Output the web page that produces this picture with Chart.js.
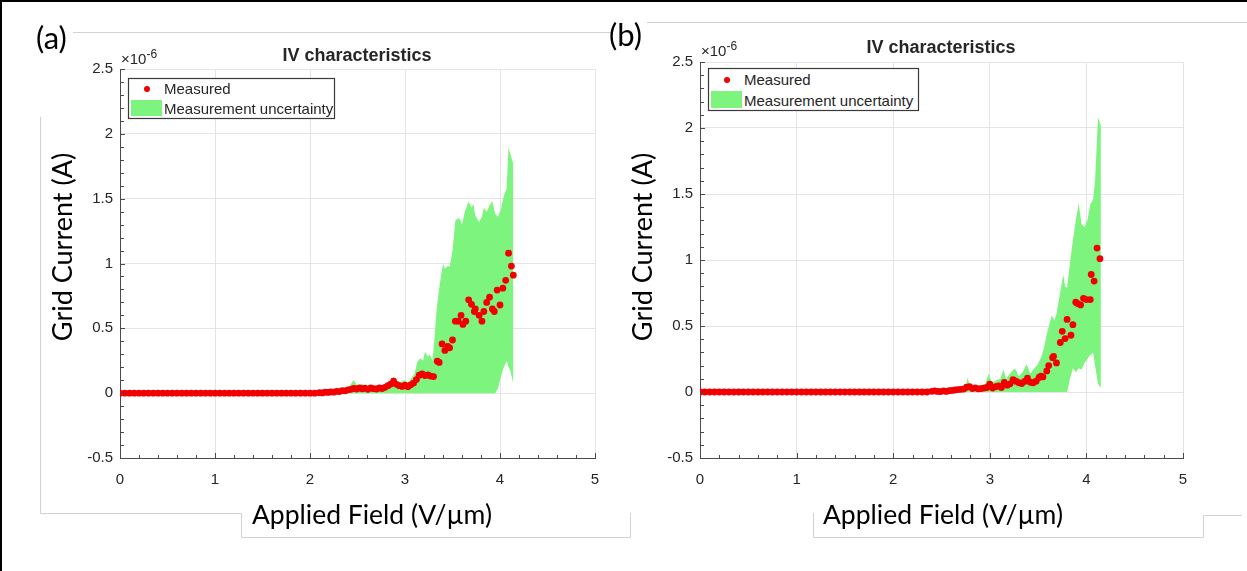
<!DOCTYPE html>
<html lang="en">
<head>
<meta charset="UTF-8">
<title>IV characteristics</title>
<script src="https://cdn.jsdelivr.net/npm/chart.js"></script>
<style>
  body { margin: 0; background: #fff; }
  .figure { position: relative; width: 1247px; height: 571px; overflow: hidden; background: #fff; }
  .figure canvas { position: absolute; top: 0; }
  #panelA { left: 0; }
  #panelB { left: 620px; }
  #notes { position: absolute; left: 0; top: 0; pointer-events: none; }
  .big { font-family: Lato, "Open Sans", sans-serif; fill: #000; }
  .small { font-family: "Liberation Sans", Arial, sans-serif; fill: #262626; }
</style>
</head>
<body>
<div class="figure">
  <canvas id="panelA" width="620" height="571"></canvas>
  <canvas id="panelB" width="627" height="571"></canvas>

  <svg id="notes" width="1247" height="571">
    <!-- outer frame, top and left -->
    <rect x="0" y="0" width="1247" height="2" fill="#000"/>
    <rect x="0" y="0" width="2" height="571" fill="#000"/>

    <!-- edges of the pasted panels and label boxes -->
    <g stroke="#d2d2d2" stroke-width="1" fill="none">
      <path d="M73 32.5H612"/>
      <path d="M647 22.5H1247"/>
      <path d="M40.5 117V513.5H241"/>
      <path d="M241.5 513V537.5H630.5V513"/>
      <path d="M813.5 513V537.5H1203.5V515.5H1242"/>
    </g>

    <!-- panel (a) -->
    <text class="big" x="36" y="49" font-size="31">(a)</text>
    <text class="small" x="357" y="61" font-size="18" font-weight="bold" text-anchor="middle">IV characteristics</text>
    <text class="small" x="121" y="64" font-size="15">×10<tspan dy="-6" font-size="12">-6</tspan></text>
    <text class="big" x="372" y="524" font-size="26.5" text-anchor="middle">Applied Field (V/µm)</text>
    <text class="big" font-size="27" text-anchor="middle" transform="translate(72 247) rotate(-90)">Grid Current (A)</text>
    <g>
      <rect x="128.5" y="78.5" width="206" height="40" fill="#fff" stroke="#3a3a3a" stroke-width="1.2"/>
      <circle cx="147" cy="89" r="3" fill="#f20000"/>
      <rect x="131" y="100" width="31" height="16" fill="#7df47d"/>
      <text class="small" x="164" y="94" font-size="15">Measured</text>
      <text class="small" x="164" y="114" font-size="15">Measurement uncertainty</text>
    </g>

    <!-- panel (b) -->
    <text class="big" x="609" y="46" font-size="31">(b)</text>
    <text class="small" x="941" y="53" font-size="18" font-weight="bold" text-anchor="middle">IV characteristics</text>
    <text class="small" x="701" y="56" font-size="15">×10<tspan dy="-6" font-size="12">-6</tspan></text>
    <text class="big" x="943" y="524" font-size="26.5" text-anchor="middle">Applied Field (V/µm)</text>
    <text class="big" font-size="27" text-anchor="middle" transform="translate(652 247) rotate(-90)">Grid Current (A)</text>
    <g>
      <rect x="708.5" y="68.5" width="210" height="42" fill="#fff" stroke="#3a3a3a" stroke-width="1.2"/>
      <circle cx="727" cy="80" r="3" fill="#f20000"/>
      <rect x="711" y="91" width="31" height="17" fill="#7df47d"/>
      <text class="small" x="744" y="85" font-size="15">Measured</text>
      <text class="small" x="744" y="106" font-size="15">Measurement uncertainty</text>
    </g>
  </svg>
</div>

<script>
// applied field in V/um, grid current in units of 1e-6 A

// panel (a)
const fieldA = [
  0.00, 0.05, 0.10, 0.15, 0.20, 0.25, 0.30, 0.35, 0.40, 0.45, 0.50, 0.55, 0.60, 0.65,
  0.70, 0.75, 0.80, 0.85, 0.90, 0.95, 1.00, 1.05, 1.10, 1.15, 1.20, 1.25, 1.30, 1.35,
  1.40, 1.45, 1.50, 1.55, 1.60, 1.65, 1.70, 1.75, 1.80, 1.85, 1.90, 1.95, 2.00, 2.05,
  2.10, 2.13, 2.16, 2.19, 2.22, 2.25, 2.28, 2.31, 2.34, 2.37, 2.40, 2.43, 2.46, 2.49,
  2.52, 2.55, 2.58, 2.61, 2.64, 2.67, 2.70, 2.73, 2.76, 2.79, 2.82, 2.85, 2.88, 2.91,
  2.94, 2.97, 3.00, 3.03, 3.06, 3.09, 3.12, 3.15, 3.18, 3.21, 3.24, 3.27, 3.30,
  3.34, 3.36, 3.39, 3.42, 3.45, 3.47, 3.50, 3.53, 3.56, 3.59, 3.61, 3.64, 3.67, 3.70,
  3.73, 3.74, 3.78, 3.81, 3.83, 3.86, 3.89, 3.92, 3.94, 3.97, 4.00, 4.03, 4.06, 4.09,
  4.12, 4.14
];
const currentA = [
  0, 0, 0, 0, 0, 0, 0, 0, 0, 0, 0, 0, 0, 0,
  0, 0, 0, 0, 0, 0, 0, 0, 0, 0, 0, 0, 0, 0,
  0, 0, 0, 0, 0, 0, 0, 0, 0, 0, 0, 0, 0, 0,
  0.004, 0.002, 0.008, 0.006, 0.010, 0.008, 0.014, 0.012, 0.020, 0.018, 0.026, 0.030, 0.036, 0.032,
  0.040, 0.034, 0.038, 0.030, 0.040, 0.035, 0.032, 0.040, 0.036, 0.045, 0.058, 0.070, 0.092, 0.068,
  0.058, 0.052, 0.062, 0.050, 0.064, 0.078, 0.105, 0.138, 0.148, 0.136, 0.140, 0.132, 0.128,
  0.247, 0.237, 0.380, 0.330, 0.360, 0.350, 0.410, 0.555, 0.555, 0.600, 0.530, 0.555, 0.720, 0.685,
  0.630, 0.650, 0.600, 0.555, 0.630, 0.700, 0.740, 0.650, 0.630, 0.795, 0.680, 0.810, 0.870, 1.080,
  0.980, 0.910
];
const bandFieldA = [
  2.30, 2.40, 2.46, 2.50, 2.55, 2.60, 2.65, 2.70, 2.75, 2.80, 2.85, 2.88, 2.92, 2.96,
  3.00, 3.03, 3.06, 3.10, 3.13, 3.16, 3.19, 3.21, 3.24, 3.26, 3.29, 3.31, 3.33, 3.35,
  3.37, 3.40, 3.42, 3.45, 3.47, 3.50, 3.53, 3.56, 3.58, 3.60, 3.63, 3.67, 3.70, 3.72,
  3.74, 3.78, 3.81, 3.83, 3.86, 3.89, 3.92, 3.95, 3.98, 4.01, 4.04, 4.07, 4.09, 4.11,
  4.14
];
const bandLowA = [
  0, 0, 0, 0, 0, 0, 0, 0, 0, 0, 0, 0, 0, 0,
  0, 0, 0, 0, 0, 0, 0, 0, 0, 0, 0, 0, 0, 0,
  0, 0, 0, 0, 0, 0, 0, 0, 0, 0, 0, 0, 0, 0,
  0, 0, 0, 0, 0, 0, 0, 0, 0.04, 0.13, 0.20, 0.25, 0.20, 0.17,
  0.07
];
const bandHighA = [
  0.01, 0.04, 0.10, 0.06, 0.07, 0.05, 0.055, 0.05, 0.06, 0.07, 0.09, 0.13, 0.08, 0.09,
  0.10, 0.08, 0.11, 0.15, 0.24, 0.27, 0.25, 0.32, 0.28, 0.30, 0.25, 0.42, 0.62, 0.75,
  0.86, 1.00, 0.96, 0.98, 0.975, 1.10, 1.33, 1.35, 1.34, 1.30, 1.40, 1.48, 1.43, 1.46,
  1.37, 1.32, 1.36, 1.43, 1.40, 1.45, 1.48, 1.38, 1.36, 1.42, 1.52, 1.58, 1.90, 1.84,
  1.77
];

// panel (b)
const fieldB = [
  0.00, 0.05, 0.10, 0.15, 0.20, 0.25, 0.30, 0.35, 0.40, 0.45, 0.50, 0.55, 0.60, 0.65,
  0.70, 0.75, 0.80, 0.85, 0.90, 0.95, 1.00, 1.05, 1.10, 1.15, 1.20, 1.25, 1.30, 1.35,
  1.40, 1.45, 1.50, 1.55, 1.60, 1.65, 1.70, 1.75, 1.80, 1.85, 1.90, 1.95, 2.00, 2.05,
  2.10, 2.15, 2.20, 2.25, 2.30, 2.35,
  2.40, 2.43, 2.46, 2.49, 2.52, 2.55, 2.58, 2.61, 2.64, 2.67, 2.70, 2.73, 2.76, 2.79,
  2.82, 2.85, 2.88, 2.91, 2.94, 2.97, 3.00, 3.03, 3.06, 3.09, 3.12, 3.15, 3.18, 3.21,
  3.24, 3.27, 3.30, 3.33, 3.36, 3.39, 3.42, 3.45, 3.48, 3.51,
  3.53, 3.55, 3.59, 3.61, 3.65, 3.66, 3.69, 3.73, 3.75, 3.78, 3.80, 3.84, 3.86, 3.89,
  3.91, 3.94, 3.97, 4.00, 4.04, 4.05, 4.08, 4.11, 4.14
];
const currentB = [
  0, 0, 0, 0, 0, 0, 0, 0, 0, 0, 0, 0, 0, 0,
  0, 0, 0, 0, 0, 0, 0, 0, 0, 0, 0, 0, 0, 0,
  0, 0, 0, 0, 0, 0, 0, 0, 0, 0, 0, 0, 0, 0,
  0, 0, 0, 0, 0, 0,
  0.005, 0.008, 0.004, 0.003, 0.008, 0.004, 0.010, 0.012, 0.015, 0.018, 0.020, 0.022, 0.036, 0.040,
  0.026, 0.032, 0.024, 0.026, 0.030, 0.034, 0.060, 0.030, 0.040, 0.046, 0.034, 0.072, 0.052, 0.062,
  0.094, 0.082, 0.070, 0.064, 0.080, 0.104, 0.074, 0.070, 0.082, 0.110,
  0.120, 0.114, 0.160, 0.200, 0.260, 0.270, 0.220, 0.375, 0.460, 0.405, 0.550, 0.430, 0.510, 0.680,
  0.670, 0.660, 0.710, 0.700, 0.700, 0.890, 0.840, 1.090, 1.010
];
const bandFieldB = [
  2.74, 2.77, 2.80, 2.85, 2.90, 2.95, 2.99, 3.02, 3.07, 3.11, 3.14, 3.17, 3.22, 3.26,
  3.30, 3.34, 3.38, 3.42, 3.46, 3.49, 3.53, 3.56, 3.59, 3.62, 3.64, 3.67, 3.69, 3.72,
  3.76, 3.78, 3.80, 3.83, 3.86, 3.89, 3.92, 3.95, 3.98, 4.01, 4.04, 4.07, 4.09, 4.12,
  4.15
];
const bandLowB = [
  0, 0, 0, 0, 0, 0, 0, 0, 0, 0, 0, 0, 0, 0,
  0, 0, 0, 0, 0, 0, 0, 0, 0, 0, 0, 0, 0, 0,
  0, 0, 0, 0.10, 0.18, 0.15, 0.18, 0.17, 0.22, 0.25, 0.28, 0.30, 0.20, 0.06,
  0.03
];
const bandHighB = [
  0.00, 0.11, 0.03, 0.04, 0.05, 0.06, 0.14, 0.07, 0.09, 0.10, 0.17, 0.10, 0.15, 0.18,
  0.12, 0.15, 0.21, 0.14, 0.18, 0.20, 0.26, 0.33, 0.44, 0.52, 0.58, 0.54, 0.59, 0.72,
  0.89, 0.80, 0.79, 0.98, 1.15, 1.30, 1.43, 1.27, 1.25, 1.30, 1.42, 1.46, 1.60, 2.08,
  2.02
];

const axisGrey = '#4a4a4a';
const gridGrey = '#e4e4e4';
const dotRed = '#f20000';
const bandGreen = '#7df47d';

// short inward ticks on the left and bottom axes (minor every 0.1 / 0.2)
const inwardTicks = {
  id: 'inwardTicks',
  afterDatasetsDraw(chart) {
    const { ctx, chartArea: area, scales: { x, y } } = chart;
    ctx.save();
    ctx.strokeStyle = axisGrey;
    ctx.lineWidth = 1;
    ctx.beginPath();
    for (let i = 0; i <= 25; i++) {
      const px = Math.round(x.getPixelForValue(i * 0.2)) + 0.5;
      const len = i % 5 === 0 ? 5 : 3;
      ctx.moveTo(px, area.bottom);
      ctx.lineTo(px, area.bottom - len);
    }
    for (let i = 0; i <= 30; i++) {
      const py = Math.round(y.getPixelForValue(-0.5 + i * 0.1)) + 0.5;
      const len = i % 5 === 0 ? 5 : 4;
      ctx.moveTo(area.left, py);
      ctx.lineTo(area.left + len, py);
    }
    ctx.stroke();
    ctx.restore();
  }
};

function points(xs, ys) {
  return xs.map((v, i) => ({ x: v, y: ys[i] }));
}

function buildPanel(canvasId, padding, field, current, bandField, bandLow, bandHigh) {
  const tickFont = { family: '"Liberation Sans", Arial, sans-serif', size: 15 };
  return new Chart(document.getElementById(canvasId), {
    type: 'line',
    data: {
      datasets: [
        {
          label: 'Measured',
          data: points(field, current),
          showLine: false,
          pointRadius: 3.4,
          pointBorderWidth: 0,
          pointBackgroundColor: dotRed
        },
        {
          label: 'lower bound',
          data: points(bandField, bandLow),
          pointRadius: 0,
          borderWidth: 0,
          borderColor: 'transparent',
          tension: 0,
          fill: false
        },
        {
          label: 'Measurement uncertainty',
          data: points(bandField, bandHigh),
          pointRadius: 0,
          borderWidth: 0,
          borderColor: 'transparent',
          backgroundColor: bandGreen,
          tension: 0,
          fill: '-1'
        }
      ]
    },
    options: {
      responsive: false,
      animation: false,
      layout: { padding: padding },
      plugins: {
        legend: { display: false },
        tooltip: { enabled: false }
      },
      scales: {
        x: {
          type: 'linear',
          min: 0,
          max: 5,
          ticks: { stepSize: 1, color: '#262626', font: tickFont, padding: 13 },
          grid: { color: gridGrey, drawTicks: false },
          border: { color: axisGrey },
          afterFit: (s) => { s.height = 40; }
        },
        y: {
          type: 'linear',
          min: -0.5,
          max: 2.5,
          ticks: {
            stepSize: 0.5,
            color: '#262626',
            font: tickFont,
            padding: 7,
            callback: (value) => String(value)
          },
          grid: { color: gridGrey, drawTicks: false },
          border: { color: axisGrey },
          afterFit: (s) => { s.width = 60; }
        }
      }
    },
    plugins: [inwardTicks]
  });
}

buildPanel('panelA', { left: 60, right: 25, top: 69, bottom: 73 },
  fieldA, currentA, bandFieldA, bandLowA, bandHighA);
buildPanel('panelB', { left: 20, right: 64, top: 62, bottom: 73 },
  fieldB, currentB, bandFieldB, bandLowB, bandHighB);
</script>
</body>
</html>
